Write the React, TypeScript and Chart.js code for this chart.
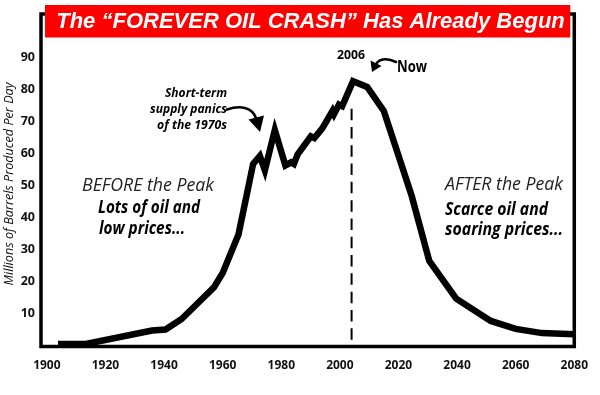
import React, { useEffect, useRef } from "react";
import { Chart, registerables } from "chart.js";

Chart.register(...registerables);

// ---- data ----
const years = [1903.8, 1913.3, 1935.9, 1940.5, 1946, 1952, 1957, 1960, 1965.4, 1970.4, 1972.7, 1974.4, 1977.8, 1981.4, 1983.4, 1984.3, 1985.6, 1990.1, 1991.3, 1994, 1997.5, 1998, 1999.7, 2000.8, 2004.5, 2009.3, 2015, 2024.5, 2030.5, 2039.7, 2051.5, 2060, 2069, 2080];
const production = [0.3, 0.3, 4.5, 4.8, 8.1, 13.5, 18, 22.5, 34.6, 56.7, 59.2, 54.7, 67.3, 56.2, 57.2, 56.7, 59.7, 65.3, 64.8, 67.8, 73.3, 72.3, 75.3, 74.8, 82.6, 80.8, 73.3, 46.7, 26.3, 14.5, 7.5, 5, 3.7, 3.3];
const xTickYears = [1900, 1920, 1940, 1960, 1980, 2000, 2020, 2040, 2060, 2080];
const yTickValues = [10, 20, 30, 40, 50, 60, 70, 80, 90];
const peakMarkerYear = 2004;
const peakMarkerTop = 74;

const titleText = "The \u201CFOREVER OIL CRASH\u201D Has Already Begun";
const yAxisTitle = "Millions of Barrels Produced Per Day";
const panicLines = ["Short-term", "supply panics", "of the 1970s"];
const beforeLines = ["BEFORE the Peak", "Lots of oil and", "low prices..."];
const afterLines = ["AFTER the Peak", "Scarce oil and", "soaring prices..."];
const peakLabel = "2006";
const nowLabel = "Now";

const FAMILY = '"Open Sans", "DejaVu Sans", sans-serif';

// draws text at a given font size, horizontally condensed so it spans the target width
function textFit(
  ctx: CanvasRenderingContext2D,
  text: string,
  x: number,
  y: number,
  align: "left" | "right" | "center",
  style: string,
  weight: string,
  size: number,
  target: number,
  color = "#000"
) {
  ctx.save();
  ctx.font = `${style} ${weight} ${size}px ${FAMILY}`;
  const w = ctx.measureText(text).width;
  const sx = Math.min(1.1, target / w);
  ctx.fillStyle = color;
  ctx.textAlign = align;
  ctx.textBaseline = "middle";
  ctx.translate(x, y);
  ctx.scale(sx, 1);
  ctx.fillText(text, 0, 0);
  ctx.restore();
}

const decorPlugin = {
  id: "decor",
  beforeDatasetsDraw(chart: any) {
    const ctx = chart.ctx as CanvasRenderingContext2D;
    const xs = chart.scales.x;
    const ys = chart.scales.y;
    const { bottom } = chart.chartArea;
    ctx.save();
    const px = xs.getPixelForValue(peakMarkerYear);
    ctx.strokeStyle = "#000";
    ctx.lineWidth = 2;
    ctx.setLineDash([11.5, 6.8]);
    ctx.beginPath();
    ctx.moveTo(px, ys.getPixelForValue(peakMarkerTop));
    ctx.lineTo(px, bottom);
    ctx.stroke();
    ctx.restore();
  },
  afterDraw(chart: any) {
    const ctx = chart.ctx as CanvasRenderingContext2D;
    const { left, right, top, bottom } = chart.chartArea;
    ctx.save();
    // frame
    ctx.strokeStyle = "#000";
    ctx.lineWidth = 3.5;
    ctx.strokeRect(left, top + 0.5, right - left, bottom - top - 0.5);
    // title bar
    ctx.fillStyle = "#fe0000";
    ctx.fillRect(left + 4, 5, right - left - 8, 32.5);
    ctx.font = `italic bold 22px "Liberation Sans", Arial, sans-serif`;
    ctx.fillStyle = "#fff";
    ctx.textAlign = "center";
    ctx.textBaseline = "middle";
    ctx.fillText(titleText, 310.5, 21.5);

    // y axis title
    ctx.save();
    ctx.translate(9, 184);
    ctx.rotate(-Math.PI / 2);
    textFit(ctx, yAxisTitle, 0, 0, "center", "italic", "normal", 13, 203, "#111");
    ctx.restore();

    // annotations
    textFit(ctx, beforeLines[0], 82, 186, "left", "italic", "normal", 19, 132, "#222");
    textFit(ctx, beforeLines[1], 98, 208, "left", "italic", "bold", 17, 102);
    textFit(ctx, beforeLines[2], 99, 229, "left", "italic", "bold", 17, 86);
    textFit(ctx, afterLines[0], 445, 185, "left", "italic", "normal", 19, 118, "#222");
    textFit(ctx, afterLines[1], 445, 210, "left", "italic", "bold", 17, 103);
    textFit(ctx, afterLines[2], 445, 230, "left", "italic", "bold", 17, 118);
    textFit(ctx, panicLines[0], 227, 93, "right", "italic", "bold", 12.5, 62);
    textFit(ctx, panicLines[1], 227, 109.5, "right", "italic", "bold", 12.5, 77);
    textFit(ctx, panicLines[2], 227, 125, "right", "italic", "bold", 12.5, 70);
    textFit(ctx, peakLabel, 351, 55, "center", "normal", "bold", 13, 28);
    textFit(ctx, nowLabel, 397, 67, "left", "normal", "bold", 16, 30);

    // arrows
    ctx.strokeStyle = "#000";
    ctx.fillStyle = "#000";
    ctx.lineWidth = 2.6;
    ctx.lineCap = "round";
    ctx.beginPath();
    ctx.moveTo(227, 109.5);
    ctx.bezierCurveTo(240, 105, 252, 107, 256, 118);
    ctx.stroke();
    ctx.beginPath();
    ctx.moveTo(248.5, 119.5);
    ctx.lineTo(264, 115.5);
    ctx.lineTo(260, 132);
    ctx.closePath();
    ctx.fill();

    ctx.beginPath();
    ctx.moveTo(396, 62);
    ctx.bezierCurveTo(388, 58, 380, 58, 376, 64);
    ctx.stroke();
    ctx.beginPath();
    ctx.moveTo(370.5, 60.5);
    ctx.lineTo(381.5, 66);
    ctx.lineTo(372, 72);
    ctx.closePath();
    ctx.fill();
    ctx.restore();
  },
};

export default function App() {
  const ref = useRef<HTMLCanvasElement | null>(null);
  useEffect(() => {
    if (!ref.current) return;
    const chart = new Chart(ref.current, {
      type: "line",
      data: {
        datasets: [
          {
            data: years.map((yr, i) => ({ x: yr, y: production[i] })),
            borderColor: "#000",
            borderWidth: 6.5,
            borderJoinStyle: "miter",
            borderCapStyle: "butt",
            pointRadius: 0,
            tension: 0,
            fill: false,
          },
        ],
      },
      options: {
        responsive: false,
        animation: false,
        events: [],
        layout: { padding: { top: 1, right: 23, left: 0, bottom: 0 } },
        plugins: { legend: { display: false }, tooltip: { enabled: false }, title: { display: false } },
        scales: {
          x: {
            type: "linear",
            min: 1898,
            max: 2080,
            grid: { display: false, drawTicks: false },
            border: { display: false },
            afterBuildTicks: (s: any) => {
              s.ticks = xTickYears.map((v) => ({ value: v }));
            },
            afterFit: (s: any) => {
              s.height = 48.5;
            },
            ticks: {
              autoSkip: false,
              maxRotation: 0,
              padding: 12,
              color: "#111",
              font: { family: FAMILY, weight: "bold", size: 12 },
              callback: (v: any) => String(v),
            },
          },
          y: {
            type: "linear",
            min: -0.5,
            max: 103.8,
            grid: { display: false, drawTicks: false },
            border: { display: false },
            afterBuildTicks: (s: any) => {
              s.ticks = yTickValues.map((v) => ({ value: v }));
            },
            afterFit: (s: any) => {
              s.width = 41;
            },
            ticks: {
              padding: 6,
              color: "#111",
              font: { family: FAMILY, weight: "bold", size: 12.5 },
              callback: (v: any) => String(v),
            },
          },
        },
      },
      plugins: [decorPlugin],
    } as any);
    return () => chart.destroy();
  }, []);
  return (
    <div style={{ position: "fixed", left: 0, top: 0, width: 600, height: 395, background: "#fff" }}>
      <canvas ref={ref} width={600} height={395} style={{ display: "block", width: 600, height: 395 }} />
    </div>
  );
}
